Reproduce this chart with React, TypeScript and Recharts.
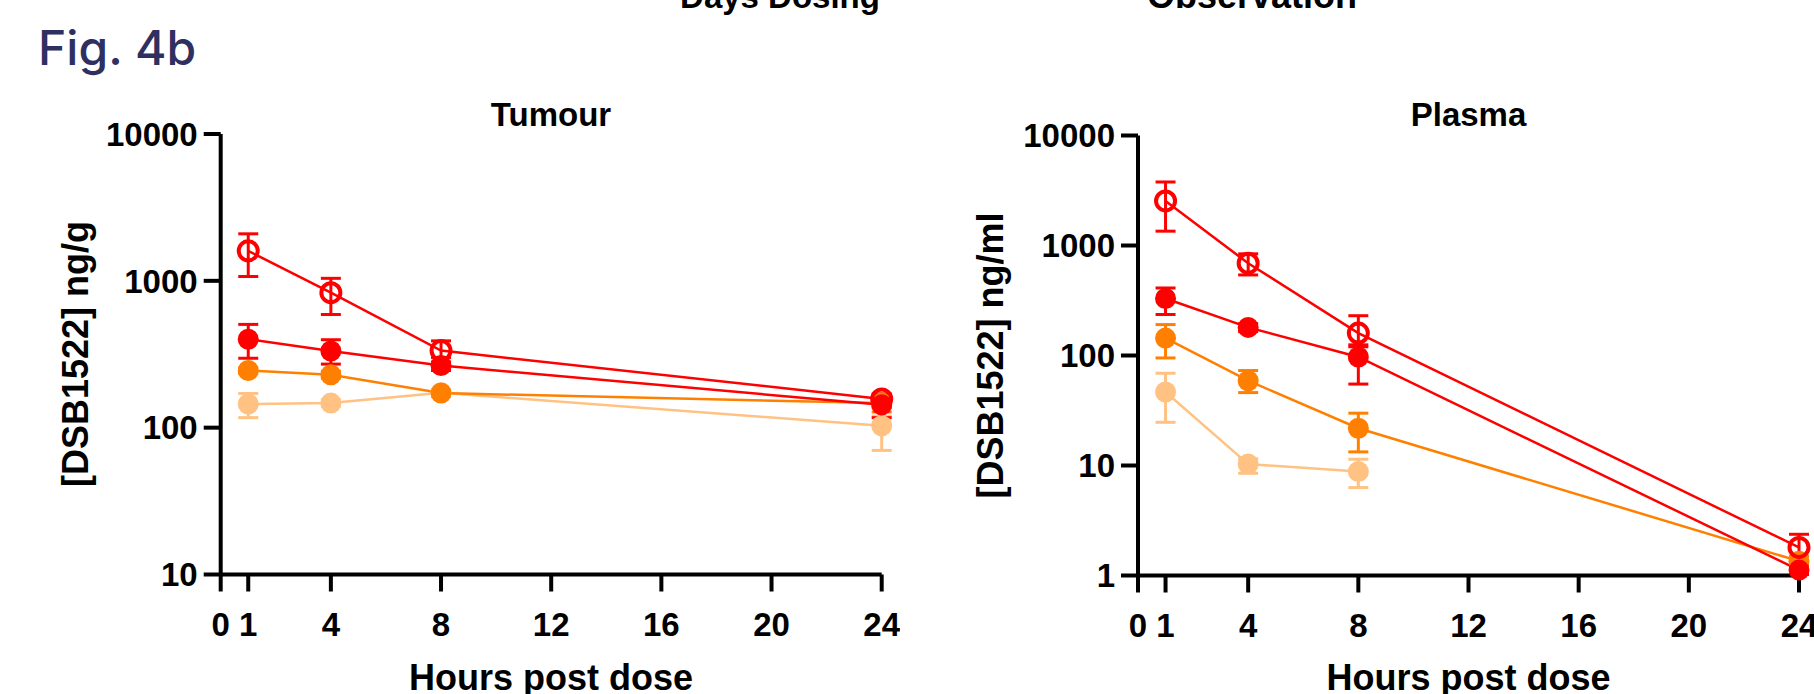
import React from 'react';
import { LineChart, Line, XAxis, YAxis, ErrorBar } from 'recharts';

// shared x positions (hours post dose) and axis ticks
const hours = [1, 4, 8, 24];
const xTicks = [0, 1, 4, 8, 12, 16, 20, 24];
const tumourTicks = [10, 100, 1000, 10000];
const plasmaTicks = [1, 10, 100, 1000, 10000];

// Tumour, ng/g  (value + [low, high] of error bar)
const tumourLight = [145, 147, 173, 103];
const tumourLightRange = [[117, 171], [140, 155], [165, 182], [70, 120]];
const tumourOrange = [245, 229, 172, 147];
const tumourOrangeRange = [[235, 256], [217, 242], [163, 180], [128, 165]];
const tumourRed = [400, 333, 265, 143];
const tumourRedRange = [[297, 505], [271, 397], [245, 280], [117, 160]];
const tumourOpen = [1600, 830, 335, 157];
const tumourOpenRange = [[1070, 2090], [590, 1040], [300, 390], [138, 170]];

// Plasma, ng/ml
const plasmaLight = [46.6, 10.3, 8.8, null];
const plasmaLightRange = [[24.7, 69], [8.5, 11.5], [6.3, 11.4], null];
const plasmaOrange = [144, 59, 21.8, 1.35];
const plasmaOrangeRange = [[95, 191], [46, 73], [13.3, 29.9], [1.2, 1.5]];
const plasmaRed = [330, 180, 97, 1.12];
const plasmaRedRange = [[236, 411], [165, 195], [55, 120], [1.02, 1.25]];
const plasmaOpen = [2540, 690, 160, 1.8];
const plasmaOpenRange = [[1350, 3780], [540, 840], [125, 230], [1.35, 2.37]];

const seriesStyle = [
  { color: '#ffc283', open: false },
  { color: '#ff8000', open: false },
  { color: '#ff0000', open: false },
  { color: '#ff0000', open: true },
];

const FONT = '"Liberation Sans", Arial, sans-serif';

function buildRows(values: (number | null)[][], ranges: (number[] | null)[][]) {
  return hours.map((t, i) => {
    const row: any = { t };
    values.forEach((vals, s) => {
      const v = vals[i];
      const r = ranges[s][i];
      row['v' + s] = v;
      row['e' + s] = v != null && r ? [v - r[0], r[1] - v] : undefined;
    });
    return row;
  });
}

const tumourRows = buildRows(
  [tumourLight, tumourOrange, tumourRed, tumourOpen],
  [tumourLightRange, tumourOrangeRange, tumourRedRange, tumourOpenRange]
);
const plasmaRows = buildRows(
  [plasmaLight, plasmaOrange, plasmaRed, plasmaOpen],
  [plasmaLightRange, plasmaOrangeRange, plasmaRedRange, plasmaOpenRange]
);

type PanelProps = {
  rows: any[];
  yTicks: number[];
  left: number;
  width: number;
  top: number;
  right: number;
  yWidth: number;
  xHeight: number;
};

const Panel = ({ rows, yTicks, left, width, top, right, yWidth, xHeight }: PanelProps) => {
  const tick = { fill: '#000', fontSize: 33, fontWeight: 700, fontFamily: FONT };
  const axisLine = { stroke: '#000', strokeWidth: 4 };
  return (
    <div style={{ position: 'absolute', left, top: 0 }}>
      <LineChart width={width} height={694} data={rows} margin={{ top, right, bottom: 0, left: 0 }}>
        <XAxis
          type="number"
          dataKey="t"
          domain={[0, 24]}
          ticks={xTicks}
          interval={0}
          height={xHeight}
          tickSize={17}
          tickMargin={21}
          axisLine={axisLine}
          tickLine={axisLine}
          tick={tick}
        />
        <YAxis
          type="number"
          scale="log"
          domain={[yTicks[0], yTicks[yTicks.length - 1]]}
          ticks={yTicks}
          interval={0}
          width={yWidth}
          tickSize={17}
          tickMargin={6}
          axisLine={axisLine}
          tickLine={axisLine}
          tick={tick}
        />
        {seriesStyle.map((s, i) => (
          <Line
            key={i}
            dataKey={'v' + i}
            stroke={s.color}
            strokeWidth={2.5}
            isAnimationActive={false}
            connectNulls={false}
            dot={
              s.open
                ? { r: 9.5, fill: 'none', stroke: s.color, strokeWidth: 4 }
                : { r: 10.5, fill: s.color, stroke: s.color, strokeWidth: 0 }
            }
            activeDot={false}
          >
            <ErrorBar dataKey={'e' + i} width={10} stroke={s.color} strokeWidth={3} direction="y" />
          </Line>
        ))}
      </LineChart>
    </div>
  );
};

const bold = { fontFamily: FONT, fontWeight: 700, fill: '#000' };

export default function App() {
  return (
    <div style={{ position: 'absolute', left: 0, top: 0, width: 1814, height: 694, overflow: 'hidden', background: '#fff' }}>
      <Panel rows={tumourRows} yTicks={tumourTicks} left={0} width={900} top={134} right={18.3} yWidth={220.7} xHeight={119.5} />
      <Panel rows={plasmaRows} yTicks={plasmaTicks} left={918} width={896} top={135.5} right={15} yWidth={220} xHeight={118.5} />
      <svg width={1814} height={694} style={{ position: 'absolute', left: 0, top: 0, pointerEvents: 'none' }}>
        <text x={38} y={65} fontFamily="Inter, 'Noto Sans', sans-serif" fontWeight={500} fontSize={48} fill="#2e3061">
          Fig. 4b
        </text>
        <text x={780} y={8} textAnchor="middle" fontSize={33} {...bold}>Days Dosing</text>
        <text x={1252} y={8} textAnchor="middle" fontSize={36} {...bold}>Observation</text>
        <text x={551} y={126} textAnchor="middle" fontSize={33} {...bold}>Tumour</text>
        <text x={1468.5} y={126} textAnchor="middle" fontSize={33} {...bold}>Plasma</text>
        <text x={551} y={690} textAnchor="middle" fontSize={36} {...bold}>Hours post dose</text>
        <text x={1468.5} y={690} textAnchor="middle" fontSize={36} {...bold}>Hours post dose</text>
        <text
          transform="translate(75 354) rotate(-90)"
          textAnchor="middle"
          dominantBaseline="central"
          fontSize={36}
          {...bold}
        >
          [DSB1522] ng/g
        </text>
        <text
          transform="translate(990 355.5) rotate(-90)"
          textAnchor="middle"
          dominantBaseline="central"
          fontSize={36}
          {...bold}
        >
          [DSB1522] ng/ml
        </text>
      </svg>
    </div>
  );
}
